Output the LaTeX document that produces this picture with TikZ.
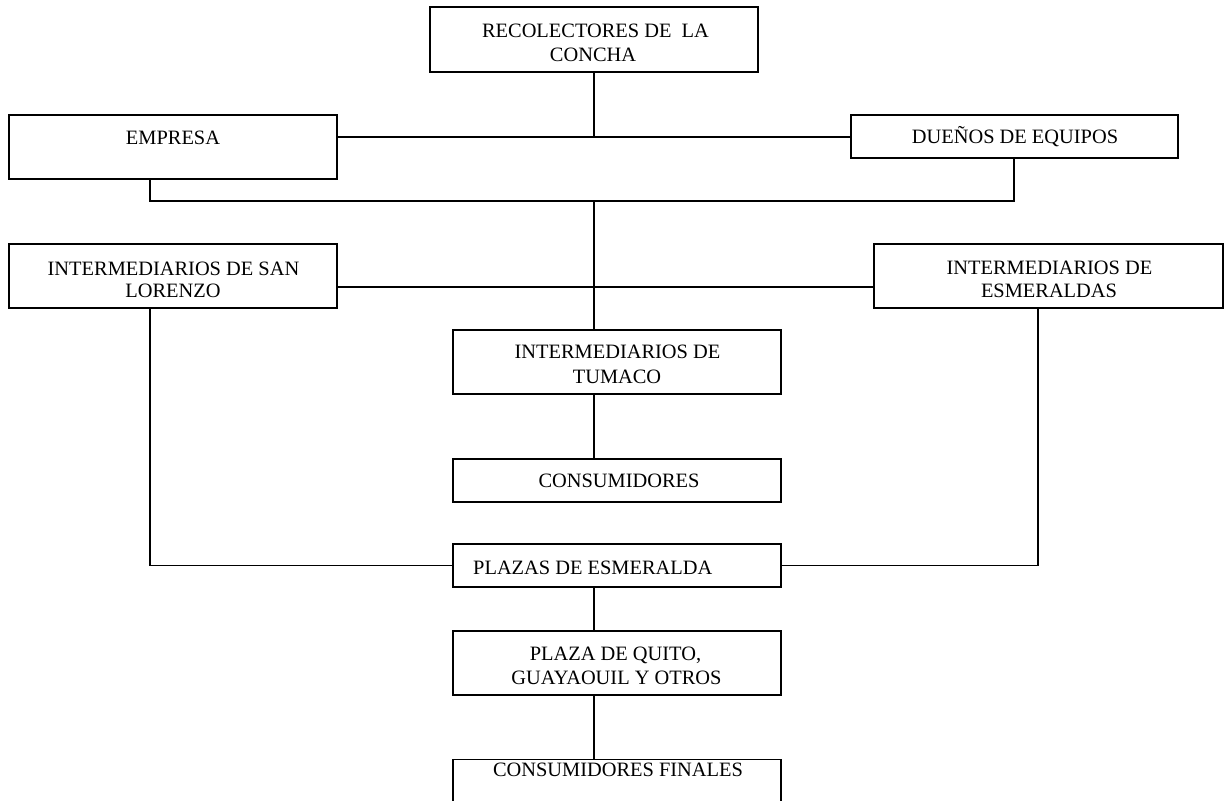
\documentclass[tikz,border=0pt]{standalone}
\usepackage{fontspec}
\setmainfont{Liberation Serif}
\begin{document}
\begin{tikzpicture}[x=1pt,y=-1pt,
  box/.style={draw=black,line width=1.8pt,inner sep=0pt,rectangle},
  lbl/.style={inner sep=0pt,anchor=base,font=\fontsize{20.4}{24}\selectfont},
  conn/.style={draw=black,line width=1.8pt}]
\useasboundingbox (0,0) rectangle (1225,800);
% boxes
\node[box,minimum width=328pt,minimum height=65pt] (rec) at (594,39.5) {};
\node[box,minimum width=328pt,minimum height=64pt] (emp) at (173,147) {};
\node[box,minimum width=327pt,minimum height=43pt] (due) at (1014.5,136.5) {};
\node[box,minimum width=328pt,minimum height=64pt] (sl) at (173,276) {};
\node[box,minimum width=349pt,minimum height=64pt] (esm) at (1048.5,276) {};
\node[box,minimum width=328pt,minimum height=64pt] (tum) at (617,362) {};
\node[box,minimum width=328pt,minimum height=43pt] (con) at (617,480.5) {};
\node[box,minimum width=328pt,minimum height=43pt] (pla) at (617,565.5) {};
\node[box,minimum width=328pt,minimum height=64pt] (qui) at (617,663) {};
\node[box,minimum width=328pt,minimum height=44pt] (fin) at (617,781.5) {};
% labels
\node[lbl] (rect1) at (595.5,37.3) {RECOLECTORES DE\ \ LA};
\node[lbl] (rect2) at (593,61.5) {CONCHA};
\node[lbl] (empt) at (173,144) {EMPRESA};
\node[lbl] (duet) at (1015,143) {DUEÑOS DE EQUIPOS};
\node[lbl] (slt1) at (173.5,275.7) {INTERMEDIARIOS DE SAN};
\node[lbl] (slt2) at (173,297.3) {LORENZO};
\node[lbl] (esmt1) at (1049.5,274) {INTERMEDIARIOS DE};
\node[lbl] (esmt2) at (1049,297) {ESMERALDAS};
\node[lbl] (tumt1) at (617.5,358) {INTERMEDIARIOS DE};
\node[lbl] (tumt2) at (617,383) {TUMACO};
\node[lbl] (cont) at (619,487) {CONSUMIDORES};
\node[lbl,anchor=base west] (plat) at (473,574) {PLAZAS DE ESMERALDA};
\node[lbl] (quit1) at (615.5,660) {PLAZA DE QUITO,};
\node[lbl] (quit2) at (616.5,684) {GUAYAOUIL Y OTROS};
\node[lbl] (fint) at (618,776) {CONSUMIDORES FINALES};
% junction coordinates
\coordinate (j1) at (594,137);
\coordinate (j2) at (594,201);
\coordinate (j3) at (594,287);
\coordinate (ea) at (150,201);
\coordinate (da) at (1014,201);
\coordinate (eb) at (1038,566);
% connectors
\draw[conn] (rec.south -| j1) -- (j1);
\draw[conn] (emp.east |- j1) -- (due.west |- j1);
\draw[conn] (emp.south -| ea) -- (ea) -- (da) -- (due.south -| da);
\draw[conn] (j2) -- (tum.north -| j2);
\draw[conn] (sl.east |- j3) -- (esm.west |- j3);
\draw[conn] (tum.south -| j2) -- (con.north -| j2);
\draw[conn] (sl.south -| ea) |- (pla.west);
\draw[conn] (esm.south -| eb) |- (pla.east);
\draw[conn] (pla.south -| j2) -- (qui.north -| j2);
\draw[conn] (qui.south -| j2) -- (fin.north -| j2);
\end{tikzpicture}
\end{document}
